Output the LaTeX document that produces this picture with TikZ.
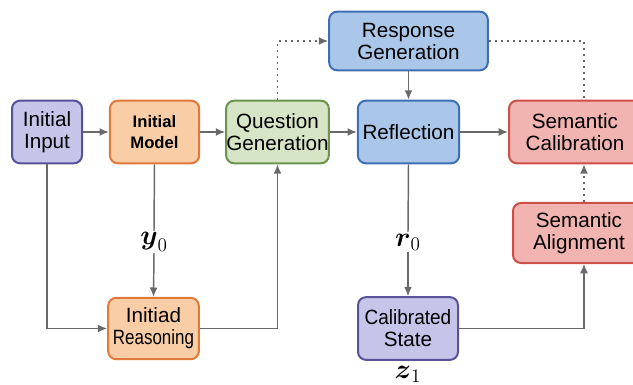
\documentclass[tikz,border=0pt]{standalone}
\usepackage{amsmath}
\usepackage{fontspec}
\setmainfont{Liberation Sans}
\usetikzlibrary{arrows.meta}

\definecolor{purpfill}{RGB}{199,196,234}
\definecolor{purpline}{RGB}{88,82,152}
\definecolor{orgfill}{RGB}{249,205,166}
\definecolor{orgline}{RGB}{224,122,58}
\definecolor{grnfill}{RGB}{213,229,198}
\definecolor{grnline}{RGB}{106,148,80}
\definecolor{bluefill}{RGB}{170,199,233}
\definecolor{blueline}{RGB}{62,110,182}
\definecolor{redfill}{RGB}{242,180,176}
\definecolor{redline}{RGB}{206,78,72}
\definecolor{flowgray}{RGB}{105,105,105}

\tikzset{every picture/.style={line width=0.75pt}}
\tikzset{
  blockbox/.style={rounded corners=6pt, line width=1.5pt, align=center, inner sep=0pt,
    font=\fontsize{15.5}{16.5}\selectfont},
  purpbox/.style={blockbox, draw=purpline, fill=purpfill},
  orgbox/.style={blockbox, draw=orgline, fill=orgfill},
  grnbox/.style={blockbox, draw=grnline, fill=grnfill},
  bluebox/.style={blockbox, draw=blueline, fill=bluefill},
  redbox/.style={blockbox, draw=redline, fill=redfill},
  flow/.style={draw=flowgray, line width=1.1pt, -{Latex[length=7pt,width=6pt]}},
  flowplain/.style={draw=flowgray, line width=1.1pt},
  dotflow/.style={flow, dash pattern={on 1.5pt off 3pt}},
  dotplain/.style={flowplain, dash pattern={on 1.5pt off 3pt}},
  varlabel/.style={inner sep=1pt, font=\fontsize{21}{21}\selectfont}
}

\begin{document}
\begin{tikzpicture}[x=0.75pt,y=0.75pt,yscale=-1,xscale=1]
\useasboundingbox (0,0) rectangle (633,385);

% Blocks
\node [purpbox, minimum width=52.5pt, minimum height=47pt] (inp) at (47,132) {Initial\\Input};
\node [orgbox, minimum width=67pt, minimum height=47pt, font=\fontsize{12.5}{16}\selectfont\bfseries] (mdl) at (154.5,132) {Initial\\Model};
\node [grnbox, minimum width=77pt, minimum height=47pt] (qg) at (277.5,132) {Question\\Generation};
\node [bluebox, minimum width=119pt, minimum height=44pt] (rg) at (408.5,41) {Response\\Generation};
\node [bluebox, minimum width=76pt, minimum height=47pt] (rf) at (408.5,132) {Reflection};
\node [redbox, minimum width=99pt, minimum height=47pt] (sc) at (575,132) {Semantic\\Calibration};
\node [redbox, minimum width=99pt, minimum height=45pt] (sa) at (579,233) {Semantic\\Alignment};
\node [orgbox, minimum width=68pt, minimum height=46pt] (ir) at (153.5,328.5) {Initiad\\\scalebox{0.82}[1]{Reasoning}};
\node [purpbox, minimum width=75pt, minimum height=47pt] (cs) at (408,328.5) {\scalebox{0.92}[1]{Calibrated}\\State};

% Labels
\node [varlabel, fill=white] (y0) at (154,242) {$\boldsymbol{y}_0$};
\node [varlabel, fill=white] (r0) at (408,242) {$\boldsymbol{r}_0$};
\node [varlabel] (z1) at (408,374) {$\boldsymbol{z}_1$};

\coordinate (cr) at (584,41);

% Main flow
\draw [flow] (inp) -- (mdl);
\draw [flow] (mdl) -- (qg);
\draw [flow] (qg) -- (rf);
\draw [flow] (rf) -- (sc);
\draw [flow] (rg) -- (rf);

% Lower branches
\draw [flowplain] (mdl.south) -- (y0.north);
\draw [flow] (y0.south) -- (ir.north);
\draw [flow] (inp.south) |- (ir.west);
\draw [flow] (ir.east) -| (qg.south);
\draw [flowplain] (rf.south) -- (r0.north);
\draw [flow] (r0.south) -- (cs.north);
\draw [flow] (cs.east) -| (sa.south -| cr);

% Dotted paths
\draw [dotflow] (qg.north) |- (rg.west);
\draw [dotplain] (rg.east) -- (cr) -- (sc.north -| cr);
\draw [dotflow] (sa.north -| cr) -- (sc.south -| cr);
\end{tikzpicture}
\end{document}
